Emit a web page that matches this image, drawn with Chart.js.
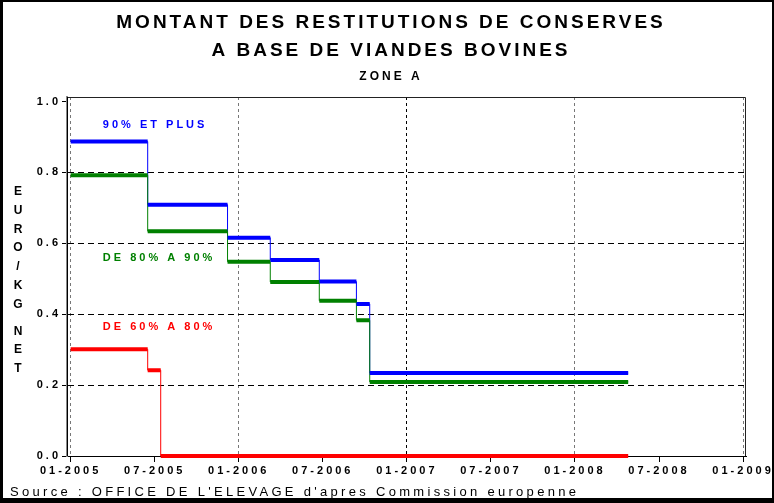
<!DOCTYPE html>
<html>
<head>
<meta charset="utf-8">
<script src="https://cdn.jsdelivr.net/npm/chart.js@4/dist/chart.umd.min.js"></script>
<style>
    html, body { margin: 0; padding: 0; background: #fff; }
    #wrap { position: relative; width: 774px; height: 503px; }
</style>
</head>
<body>
<div id="wrap"><canvas id="myChart"></canvas></div>
<script>
const titleLines = ['MONTANT DES RESTITUTIONS DE CONSERVES', 'A BASE DE VIANDES BOVINES'];
const subTitle = 'ZONE A';
const yAxisTitle = 'EURO/KG NET';
const sourceText = "Source : OFFICE DE L'ELEVAGE d'apres Commission europenne";

// x values are months counted from 01-2005
const xTickLabels = ['01-2005', '07-2005', '01-2006', '07-2006', '01-2007', '07-2007', '01-2008', '07-2008', '01-2009'];
const yTickLabels = ['0.0', '0.2', '0.4', '0.6', '0.8', '1.0'];

const periodStart = [0, 5.5, 11.2, 14.25, 17.75, 20.4, 21.35];
const periodEnd = 39.8;
const plus90 = [0.887, 0.709, 0.616, 0.553, 0.492, 0.429, 0.234];
const from80to90 = [0.792, 0.634, 0.548, 0.491, 0.438, 0.383, 0.209];
const redStart = [0, 5.5, 6.43];
const from60to80 = [0.301, 0.242, 0];

const seriesNames = ['90% ET PLUS', 'DE 80% A 90%', 'DE 60% A 80%'];
const seriesColors = ['#0000ff', '#008000', '#ff0000'];
const labelMonth = 2.3;
const labelLevel = [0.934, 0.560, 0.365];

const FONT = "'Liberation Sans', Arial, sans-serif";
Chart.defaults.font.family = FONT;
Chart.defaults.color = '#000';

// thin stepped line (vertical jumps)
function stepLine(starts, values, end) {
    const pts = starts.map((x, i) => ({x: x, y: values[i]}));
    pts.push({x: end, y: values[values.length - 1]});
    return pts;
}

// thick horizontal pieces, separated by gaps
function flats(starts, values, end) {
    const pts = [];
    starts.forEach((x, i) => {
        const x1 = i < starts.length - 1 ? starts[i + 1] : end;
        pts.push({x: x, y: values[i]}, {x: x1, y: values[i]}, {x: x1, y: null});
    });
    return pts;
}

const decor = {
    id: 'decor',
    beforeLayout(chart) {
        chart.ctx.letterSpacing = '3px';
    },
    afterLayout(chart) {
        // titles are centred a bit right of the canvas middle
        chart.boxes.forEach(b => {
            if (b.options && b.options.text !== undefined) {
                b.left = 36;
            }
        });
    },
    beforeDraw(chart) {
        const c = chart.ctx;
        c.save();
        c.fillStyle = '#fff';
        c.fillRect(0, 0, chart.width, chart.height);
        c.restore();
        c.letterSpacing = '3px';
    },
    afterDraw(chart) {
        const c = chart.ctx;
        const a = chart.chartArea;
        const xs = chart.scales.x;
        const ys = chart.scales.y;
        c.save();
        // plot frame top / right
        c.strokeStyle = '#222';
        c.lineWidth = 1;
        c.beginPath();
        c.moveTo(a.left, a.top + 0.5);
        c.lineTo(a.right - 0.5, a.top + 0.5);
        c.lineTo(a.right - 0.5, a.bottom);
        c.stroke();
        // second (dark) line of the y axis
        c.strokeStyle = '#000';
        c.beginPath();
        c.moveTo(a.left + 0.5, a.top);
        c.lineTo(a.left + 0.5, a.bottom);
        c.stroke();

        // series labels
        c.font = 'bold 11px ' + FONT;
        c.textBaseline = 'middle';
        c.textAlign = 'left';
        seriesNames.forEach((n, i) => {
            c.fillStyle = seriesColors[i];
            c.fillText(n, xs.getPixelForValue(labelMonth), ys.getPixelForValue(labelLevel[i]));
        });

        // stacked y axis title
        c.fillStyle = '#000';
        c.font = 'bold 12px ' + FONT;
        c.textAlign = 'center';
        c.letterSpacing = '0px';
        let y = 192;
        for (const ch of yAxisTitle) {
            if (ch === ' ') { y += 8.5; continue; }
            c.fillText(ch, 18, y);
            y += 18.7;
        }

        // source
        c.letterSpacing = '3.3px';
        c.textAlign = 'left';
        c.font = '13px ' + FONT;
        c.fillText(sourceText, 10, 492);

        // outer border
        c.fillStyle = '#000';
        c.fillRect(0, 0, 3, chart.height);
        c.fillRect(0, 0, chart.width, 2);
        c.fillRect(chart.width - 2, 0, 2, chart.height);
        c.fillRect(0, chart.height - 5, chart.width, 5);
        c.restore();
    }
};

const ctx = document.getElementById('myChart');

const chart = new Chart(ctx, {
    type: 'line',
    data: {
        datasets: [
            {label: seriesNames[2], data: flats(redStart, from60to80, periodEnd), borderColor: seriesColors[2], borderWidth: 4},
            {label: seriesNames[1], data: flats(periodStart, from80to90, periodEnd), borderColor: seriesColors[1], borderWidth: 4},
            {label: seriesNames[0], data: flats(periodStart, plus90, periodEnd), borderColor: seriesColors[0], borderWidth: 4},
            {label: seriesNames[2], data: stepLine(redStart, from60to80, periodEnd), borderColor: seriesColors[2], borderWidth: 1, stepped: true},
            {label: seriesNames[1], data: stepLine(periodStart, from80to90, periodEnd), borderColor: seriesColors[1], borderWidth: 1, stepped: true},
            {label: seriesNames[0], data: stepLine(periodStart, plus90, periodEnd), borderColor: seriesColors[0], borderWidth: 1, stepped: true}
        ]
    },
    options: {
        responsive: true,
        maintainAspectRatio: false,
        animation: false,
        spanGaps: false,
        elements: {
            point: {radius: 0, hoverRadius: 0},
            line: {borderCapStyle: 'butt', tension: 0, fill: false}
        },
        datasets: {line: {clip: false}},
        layout: {padding: {left: 0, right: 28, top: 0, bottom: 0}},
        plugins: {
            legend: {display: false},
            tooltip: {enabled: false},
            title: {
                display: true,
                text: titleLines,
                color: '#000',
                font: {size: 19, weight: 'bold', lineHeight: '28px'},
                padding: {top: 9, bottom: 0}
            },
            subtitle: {
                display: true,
                text: subTitle,
                color: '#000',
                font: {size: 12, weight: 'bold', lineHeight: '16px'},
                padding: {top: 4, bottom: 12}
            }
        },
        scales: {
            x: {
                type: 'linear',
                min: -0.26,
                max: 48.21,
                afterBuildTicks: s => { s.ticks = xTickLabels.map((_, i) => ({value: i * 6})); },
                afterFit: s => { s.height = 47; s.paddingLeft = 0; s.paddingRight = 0; },
                ticks: {
                    autoSkip: false,
                    maxRotation: 0,
                    padding: 2,
                    color: '#000',
                    font: {size: 11, weight: 'bold'},
                    callback: v => xTickLabels[Math.round(v / 6)]
                },
                grid: {
                    color: c => c.tick && c.tick.value % 12 === 0 ? (c.tick.value === 24 ? '#000' : '#777') : 'transparent',
                    tickColor: '#000',
                    tickLength: 6,
                    tickBorderDash: []
                },
                border: {display: true, color: '#000', width: 1, dash: [3, 3]}
            },
            y: {
                min: 0,
                max: 1.0127,
                afterBuildTicks: s => { s.ticks = yTickLabels.map(t => ({value: parseFloat(t)})); },
                afterFit: s => { s.width = 67; s.paddingTop = 0; s.paddingBottom = 0; },
                ticks: {
                    padding: 1,
                    color: '#000',
                    font: {size: 11, weight: 'bold'},
                    callback: (v, i) => yTickLabels[i]
                },
                grid: {
                    color: c => c.tick && c.tick.value > 0 && c.tick.value < 1 ? '#000' : 'transparent',
                    tickColor: '#000',
                    tickLength: 5,
                    tickBorderDash: []
                },
                border: {display: true, color: '#888', width: 2, dash: [6, 4]}
            }
        }
    },
    plugins: [decor]
});
</script>
</body>
</html>
